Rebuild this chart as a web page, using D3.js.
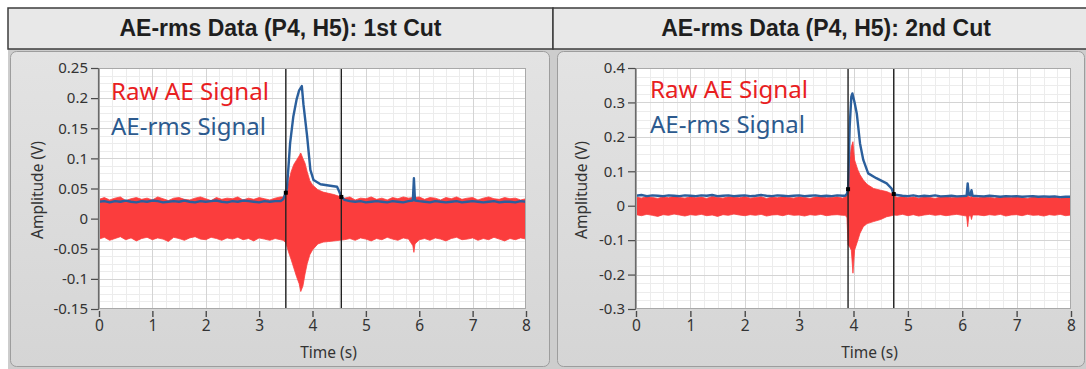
<!DOCTYPE html>
<html>
<head>
<meta charset="utf-8">
<script src="https://cdn.jsdelivr.net/npm/d3@7"></script>
<style>
  html, body { margin: 0; padding: 0; background: #fff; }
  svg { display: block; }
</style>
</head>
<body>
<div id="chart"></div>
<script>
// Two LabVIEW-style waveform panels: raw AE signal (red band) and AE-rms (blue line)
// for the 1st and 2nd cut.

const TITLES        = ["AE-rms Data (P4, H5): 1st Cut", "AE-rms Data (P4, H5): 2nd Cut"];
const LEGEND_LABELS = ["Raw AE Signal", "AE-rms Signal"];
const X_LABEL       = "Time (s)";
const Y_LABEL       = "Amplitude (V)";
const X_TICKS       = [0, 1, 2, 3, 4, 5, 6, 7, 8];

const CUT1_Y_TICKS  = [0.25, 0.2, 0.15, 0.1, 0.05, 0, -0.05, -0.1, -0.15];
const CUT1_Y_LABELS = ["0.25", "0.2", "0.15", "0.1", "0.05", "0", "-0.05", "-0.1", "-0.15"];
const CUT2_Y_TICKS  = [0.4, 0.3, 0.2, 0.1, 0, -0.1, -0.2, -0.3];
const CUT2_Y_LABELS = ["0.4", "0.3", "0.2", "0.1", "0", "-0.1", "-0.2", "-0.3"];

// ---- 1st cut ----
const cut1RawTime = [
  0, 0.1, 0.2, 0.3, 0.4, 0.5, 0.6, 0.7, 0.8, 0.9, 1.0, 1.1, 1.2, 1.3, 1.4, 1.5, 1.6, 1.7,
  1.8, 1.9, 2.0, 2.1, 2.2, 2.3, 2.4, 2.5, 2.6, 2.7, 2.8, 2.9, 3.0, 3.1, 3.2, 3.3, 3.4,
  3.45, 3.5, 3.55, 3.6, 3.65, 3.7, 3.75, 3.78, 3.82, 3.86, 3.9, 3.95, 4.0, 4.1, 4.2, 4.3, 4.4, 4.5,
  4.6, 4.7, 4.8, 4.9, 5.0, 5.1, 5.2, 5.3, 5.4, 5.5, 5.6, 5.7, 5.8, 5.88, 5.9, 5.92,
  6.0, 6.1, 6.2, 6.3, 6.4, 6.5, 6.6, 6.7, 6.8, 6.9, 7.0, 7.1, 7.2, 7.3, 7.4, 7.5, 7.6, 7.7, 7.8, 7.9, 8.0
];
const cut1RawHigh = [
  0.032, 0.035, 0.031, 0.034, 0.036, 0.030, 0.033, 0.035, 0.032, 0.034, 0.031, 0.036, 0.033, 0.030, 0.034, 0.035, 0.032, 0.031,
  0.034, 0.036, 0.033, 0.030, 0.035, 0.032, 0.034, 0.033, 0.036, 0.031, 0.034, 0.032, 0.035, 0.033, 0.031, 0.034, 0.036,
  0.036, 0.044, 0.060, 0.078, 0.090, 0.097, 0.104, 0.109, 0.100, 0.092, 0.078, 0.063, 0.056, 0.048, 0.044, 0.042, 0.040, 0.037,
  0.034, 0.036, 0.031, 0.034, 0.033, 0.036, 0.032, 0.034, 0.031, 0.035, 0.033, 0.036, 0.034, 0.035, 0.038, 0.035,
  0.036, 0.032, 0.035, 0.034, 0.031, 0.035, 0.033, 0.036, 0.032, 0.034, 0.035, 0.031, 0.034, 0.036, 0.033, 0.032, 0.035, 0.033, 0.034, 0.031, 0.033
];
const cut1RawLow = [
  -0.034, -0.031, -0.036, -0.033, -0.030, -0.035, -0.032, -0.037, -0.033, -0.031, -0.035, -0.032, -0.034, -0.038, -0.031, -0.033, -0.036, -0.032,
  -0.030, -0.034, -0.035, -0.031, -0.033, -0.036, -0.032, -0.034, -0.031, -0.035, -0.033, -0.037, -0.032, -0.034, -0.036, -0.033, -0.035,
  -0.036, -0.040, -0.055, -0.068, -0.082, -0.096, -0.108, -0.121, -0.112, -0.092, -0.075, -0.060, -0.052, -0.042, -0.039, -0.038, -0.037, -0.036,
  -0.035, -0.033, -0.036, -0.032, -0.034, -0.037, -0.033, -0.035, -0.031, -0.034, -0.036, -0.032, -0.034, -0.045, -0.056, -0.042,
  -0.035, -0.033, -0.036, -0.032, -0.034, -0.037, -0.033, -0.031, -0.035, -0.034, -0.032, -0.036, -0.033, -0.035, -0.031, -0.034, -0.037, -0.033, -0.035, -0.032, -0.034
];
const cut1RmsTime = [
  0, 0.1, 0.2, 0.3, 0.4, 0.5, 0.6, 0.7, 0.8, 0.9, 1.0, 1.1, 1.2, 1.3, 1.4, 1.5, 1.6,
  1.7, 1.8, 1.9, 2.0, 2.1, 2.2, 2.3, 2.4, 2.5, 2.6, 2.7, 2.8, 2.9, 3.0, 3.1, 3.2, 3.3,
  3.4, 3.45, 3.5, 3.52, 3.55, 3.58, 3.64, 3.7, 3.75, 3.8, 3.83, 3.9, 3.96, 4.02, 4.15, 4.3, 4.46, 4.5, 4.54,
  4.6, 4.7, 4.8, 4.9, 5.0, 5.1, 5.2, 5.3, 5.4, 5.5, 5.6, 5.7, 5.8, 5.88, 5.9, 5.92,
  6.0, 6.1, 6.2, 6.3, 6.4, 6.5, 6.6, 6.7, 6.8, 6.9, 7.0, 7.1, 7.2, 7.3, 7.4, 7.5, 7.6, 7.7, 7.8, 7.9, 8.0
];
const cut1Rms = [
  0.028, 0.029, 0.027, 0.029, 0.028, 0.030, 0.028, 0.027, 0.029, 0.028, 0.030, 0.029, 0.027, 0.028, 0.029, 0.028, 0.030,
  0.028, 0.027, 0.029, 0.028, 0.029, 0.030, 0.028, 0.027, 0.029, 0.028, 0.030, 0.029, 0.028, 0.027, 0.029, 0.028, 0.029,
  0.029, 0.032, 0.043, 0.050, 0.086, 0.125, 0.169, 0.197, 0.213, 0.220, 0.190, 0.136, 0.081, 0.064, 0.057, 0.055, 0.053, 0.045, 0.036,
  0.031, 0.029, 0.028, 0.029, 0.027, 0.028, 0.029, 0.028, 0.027, 0.029, 0.028, 0.027, 0.029, 0.030, 0.067, 0.030,
  0.029, 0.028, 0.027, 0.029, 0.028, 0.027, 0.028, 0.029, 0.027, 0.028, 0.029, 0.028, 0.027, 0.028, 0.029, 0.027, 0.028, 0.028, 0.027, 0.029, 0.028
];
const cut1CursorTime  = [3.5, 4.54];
const cut1CursorValue = [0.043, 0.036];

// ---- 2nd cut ----
const cut2RawTime = [
  0, 0.1, 0.2, 0.3, 0.4, 0.5, 0.6, 0.7, 0.8, 0.9, 1.0, 1.1, 1.2, 1.3, 1.4, 1.5, 1.6, 1.7, 1.8, 1.9,
  2.0, 2.1, 2.2, 2.3, 2.4, 2.5, 2.6, 2.7, 2.8, 2.9, 3.0, 3.1, 3.2, 3.3, 3.4, 3.5, 3.6, 3.7, 3.8,
  3.85, 3.88, 3.9, 3.93, 3.96, 3.99, 4.02, 4.08, 4.12, 4.18, 4.25, 4.37, 4.5, 4.61, 4.7, 4.74,
  4.8, 4.9, 5.0, 5.1, 5.2, 5.3, 5.4, 5.5, 5.6, 5.7, 5.8, 5.9, 6.0,
  6.08, 6.1, 6.12, 6.15, 6.17, 6.19,
  6.3, 6.4, 6.5, 6.6, 6.7, 6.8, 6.9, 7.0, 7.1, 7.2, 7.3, 7.4, 7.5, 7.6, 7.7, 7.8, 7.9, 8.0
];
const cut2RawHigh = [
  0.025, 0.022, 0.027, 0.024, 0.021, 0.026, 0.023, 0.028, 0.024, 0.022, 0.026, 0.023, 0.025, 0.021, 0.027, 0.024, 0.022, 0.026, 0.025, 0.023,
  0.027, 0.022, 0.024, 0.026, 0.021, 0.025, 0.023, 0.027, 0.024, 0.022, 0.026, 0.024, 0.021, 0.025, 0.027, 0.023, 0.024, 0.026, 0.022,
  0.026, 0.030, 0.050, 0.133, 0.171, 0.186, 0.133, 0.104, 0.090, 0.075, 0.062, 0.050, 0.045, 0.041, 0.035, 0.031,
  0.024, 0.027, 0.023, 0.025, 0.022, 0.026, 0.024, 0.021, 0.025, 0.027, 0.023, 0.024, 0.026,
  0.025, 0.035, 0.026, 0.024, 0.028, 0.024,
  0.023, 0.026, 0.024, 0.022, 0.027, 0.025, 0.023, 0.026, 0.024, 0.021, 0.025, 0.027, 0.023, 0.024, 0.026, 0.022, 0.025, 0.024
];
const cut2RawLow = [
  -0.026, -0.029, -0.025, -0.028, -0.031, -0.026, -0.028, -0.024, -0.027, -0.030, -0.026, -0.028, -0.025, -0.029, -0.027, -0.031, -0.026, -0.028, -0.024, -0.027,
  -0.029, -0.026, -0.028, -0.025, -0.030, -0.027, -0.026, -0.029, -0.025, -0.028, -0.027, -0.030, -0.026, -0.028, -0.025, -0.029, -0.027, -0.026, -0.028,
  -0.028, -0.035, -0.114, -0.120, -0.129, -0.196, -0.129, -0.100, -0.080, -0.061, -0.052, -0.046, -0.040, -0.032, -0.029, -0.027,
  -0.028, -0.025, -0.029, -0.026, -0.030, -0.027, -0.025, -0.028, -0.026, -0.029, -0.027, -0.025, -0.028,
  -0.030, -0.061, -0.032, -0.027, -0.040, -0.027,
  -0.027, -0.029, -0.026, -0.028, -0.025, -0.030, -0.027, -0.026, -0.029, -0.025, -0.028, -0.027, -0.030, -0.026, -0.028, -0.025, -0.029, -0.027
];
const cut2RmsTime = [
  0, 0.1, 0.2, 0.3, 0.4, 0.5, 0.6, 0.7, 0.8, 0.9, 1.0, 1.1, 1.2, 1.3, 1.4, 1.5, 1.6, 1.7, 1.8, 1.9,
  2.0, 2.1, 2.2, 2.3, 2.4, 2.5, 2.6, 2.7, 2.8, 2.9, 3.0, 3.1, 3.2, 3.3, 3.4, 3.5, 3.6, 3.7, 3.8,
  3.85, 3.88, 3.9, 3.93, 3.96, 3.98, 4.02, 4.06, 4.12, 4.18, 4.27, 4.42, 4.61, 4.7, 4.74,
  4.8, 4.9, 5.0, 5.1, 5.2, 5.3, 5.4, 5.5, 5.6, 5.7, 5.8, 5.9, 6.0,
  6.08, 6.1, 6.12, 6.15, 6.17, 6.19,
  6.3, 6.4, 6.5, 6.6, 6.7, 6.8, 6.9, 7.0, 7.1, 7.2, 7.3, 7.4, 7.5, 7.6, 7.7, 7.8, 7.9, 8.0
];
const cut2Rms = [
  0.029, 0.031, 0.028, 0.030, 0.029, 0.028, 0.030, 0.029, 0.028, 0.030, 0.029, 0.028, 0.030, 0.029, 0.031, 0.028, 0.029, 0.030, 0.028, 0.029,
  0.030, 0.028, 0.029, 0.031, 0.029, 0.028, 0.030, 0.029, 0.028, 0.029, 0.030, 0.028, 0.029, 0.030, 0.028, 0.029, 0.028, 0.030, 0.029,
  0.029, 0.035, 0.048, 0.230, 0.317, 0.326, 0.300, 0.268, 0.181, 0.133, 0.094, 0.080, 0.065, 0.050, 0.034,
  0.031, 0.029, 0.028, 0.030, 0.027, 0.029, 0.028, 0.030, 0.027, 0.028, 0.029, 0.027, 0.028,
  0.029, 0.065, 0.032, 0.030, 0.045, 0.029,
  0.028, 0.027, 0.029, 0.028, 0.026, 0.028, 0.027, 0.028, 0.026, 0.027, 0.028, 0.026, 0.027, 0.026, 0.027, 0.025, 0.026, 0.026
];
const cut2CursorTime  = [3.9, 4.74];
const cut2CursorValue = [0.048, 0.034];

// ---- layout / style ----
const W = 1086, H = 369;
const FONT_UI    = "'Noto Sans', 'Open Sans', sans-serif";
const FONT_TITLE = "'Liberation Sans', Arial, sans-serif";
const RED  = "#fb3d3d";
const BLUE = "#2b5f9c";
const PLOT_Y0 = 68, PLOT_Y1 = 309;

const PANELS = [
  {
    title: TITLES[0], cell: [8, 553], frame: [10, 549], x0: 99, x1: 526, titleX: 280.5,
    yDomain: [-0.15, 0.25], yStep: 0.05, yTicks: CUT1_Y_TICKS, yLabels: CUT1_Y_LABELS,
    yLabelX: 38, legendX: 111, legendY: [100, 135],
    rawTime: cut1RawTime, rawHigh: cut1RawHigh, rawLow: cut1RawLow,
    rmsTime: cut1RmsTime, rms: cut1Rms,
    cursorTime: cut1CursorTime, cursorValue: cut1CursorValue,
  },
  {
    title: TITLES[1], cell: [553, 1099], frame: [557, 1084], x0: 636, x1: 1071, titleX: 826,
    yDomain: [-0.3, 0.4], yStep: 0.1, yTicks: CUT2_Y_TICKS, yLabels: CUT2_Y_LABELS,
    yLabelX: 582, legendX: 650, legendY: [98, 133],
    rawTime: cut2RawTime, rawHigh: cut2RawHigh, rawLow: cut2RawLow,
    rmsTime: cut2RmsTime, rms: cut2Rms,
    cursorTime: cut2CursorTime, cursorValue: cut2CursorValue,
  },
];

const svg = d3.select("#chart")
  .append("svg")
    .attr("width", W)
    .attr("height", H);

const defs = svg.append("defs");
const grad = defs.append("linearGradient")
  .attr("id", "panelGrad")
  .attr("x1", 0).attr("y1", 0).attr("x2", 0).attr("y2", 1);
grad.append("stop").attr("offset", "0%").attr("stop-color", "#e3e3e3");
grad.append("stop").attr("offset", "100%").attr("stop-color", "#d5d5d5");

// backdrop behind the panels
svg.append("rect")
  .attr("x", 8).attr("y", 49)
  .attr("width", W - 8).attr("height", H - 49)
  .attr("fill", "#cdcdcd");

PANELS.forEach((p, i) => drawPanel(p, i));

function drawPanel(p, i) {
  // header cell
  svg.append("rect")
    .attr("x", p.cell[0]).attr("y", 8)
    .attr("width", p.cell[1] - p.cell[0]).attr("height", 41)
    .attr("fill", "#e8e8e8")
    .attr("stroke", "#3c3c3c")
    .attr("stroke-width", 1.5);

  svg.append("text")
    .attr("x", p.titleX)
    .attr("y", 36)
    .attr("text-anchor", "middle")
    .attr("font-family", FONT_TITLE)
    .attr("font-weight", "700")
    .attr("font-size", "23px")
    .attr("fill", "#1e1e1e")
    .text(p.title);

  // panel frame
  svg.append("rect")
    .attr("x", p.frame[0] + 0.5).attr("y", 51.5)
    .attr("width", p.frame[1] - p.frame[0]).attr("height", 315)
    .attr("rx", 6)
    .attr("fill", "url(#panelGrad)")
    .attr("stroke", "#9d9d9d");

  const x = d3.scaleLinear().domain([0, 8]).range([p.x0, p.x1]);
  const y = d3.scaleLinear().domain(p.yDomain).range([PLOT_Y1, PLOT_Y0]);

  const clipId = `clip-${i}`;
  defs.append("clipPath").attr("id", clipId)
    .append("rect")
      .attr("x", p.x0).attr("y", PLOT_Y0)
      .attr("width", p.x1 - p.x0).attr("height", PLOT_Y1 - PLOT_Y0);

  svg.append("rect")
    .attr("x", p.x0).attr("y", PLOT_Y0)
    .attr("width", p.x1 - p.x0).attr("height", PLOT_Y1 - PLOT_Y0)
    .attr("fill", "#fff");

  const g = svg.append("g").attr("clip-path", `url(#${clipId})`);

  drawGrid(g, p, x, y);
  drawRaw(g, p, x, y);
  drawRms(g, p, x, y);
  drawCursors(g, p, x, y);
  drawFrame(p);
  drawAxes(p, x, y);
  drawLegend(p);
}

function drawGrid(g, p, x, y) {
  const xMinor = d3.range(0, 8.0001, 0.25);
  const yMinor = d3.range(p.yDomain[0], p.yDomain[1] + 1e-6, p.yStep / 4);

  g.selectAll(".vminor").data(xMinor).join("line")
    .attr("x1", d => Math.round(x(d)) + 0.5).attr("x2", d => Math.round(x(d)) + 0.5)
    .attr("y1", PLOT_Y0).attr("y2", PLOT_Y1)
    .attr("stroke", "#ececec");
  g.selectAll(".hminor").data(yMinor).join("line")
    .attr("x1", p.x0).attr("x2", p.x1)
    .attr("y1", d => Math.round(y(d)) + 0.5).attr("y2", d => Math.round(y(d)) + 0.5)
    .attr("stroke", "#ececec");

  g.selectAll(".vmajor").data(X_TICKS).join("line")
    .attr("x1", d => Math.round(x(d)) + 0.5).attr("x2", d => Math.round(x(d)) + 0.5)
    .attr("y1", PLOT_Y0).attr("y2", PLOT_Y1)
    .attr("stroke", "#d4d4d4");
  g.selectAll(".hmajor").data(p.yTicks).join("line")
    .attr("x1", p.x0).attr("x2", p.x1)
    .attr("y1", d => Math.round(y(d)) + 0.5).attr("y2", d => Math.round(y(d)) + 0.5)
    .attr("stroke", "#d4d4d4");
}

function drawRaw(g, p, x, y) {
  const rows = p.rawTime.map((t, k) => ({ t, hi: p.rawHigh[k], lo: p.rawLow[k] }));
  const areaFn = d3.area()
    .x(d => x(d.t))
    .y0(d => y(d.lo))
    .y1(d => y(d.hi));

  g.append("path")
    .datum(rows)
    .attr("d", areaFn)
    .attr("fill", RED)
    .attr("stroke", RED)
    .attr("stroke-width", 0.8)
    .attr("stroke-linejoin", "miter");
}

function drawRms(g, p, x, y) {
  const rows = p.rmsTime.map((t, k) => ({ t, v: p.rms[k] }));
  const lineFn = d3.line()
    .x(d => x(d.t))
    .y(d => y(d.v));

  g.append("path")
    .datum(rows)
    .attr("d", lineFn)
    .attr("fill", "none")
    .attr("stroke", BLUE)
    .attr("stroke-width", 2.4)
    .attr("stroke-linejoin", "round");
}

function drawCursors(g, p, x, y) {
  const rows = p.cursorTime.map((t, k) => ({ t, v: p.cursorValue[k] }));

  g.selectAll(".cursor").data(rows).join("line")
    .attr("x1", d => x(d.t)).attr("x2", d => x(d.t))
    .attr("y1", PLOT_Y0).attr("y2", PLOT_Y1)
    .attr("stroke", "#222")
    .attr("stroke-width", 1.4);

  g.selectAll(".cursor-dot").data(rows).join("rect")
    .attr("x", d => x(d.t) - 2).attr("y", d => y(d.v) - 2)
    .attr("width", 4).attr("height", 4)
    .attr("fill", "#000");
}

function drawFrame(p) {
  svg.append("rect")
    .attr("x", p.x0 + 0.5).attr("y", PLOT_Y0 + 0.5)
    .attr("width", p.x1 - p.x0 - 1).attr("height", PLOT_Y1 - PLOT_Y0 - 1)
    .attr("fill", "none")
    .attr("stroke", "#a9a9a9");
}

function drawAxes(p, x, y) {
  const yAxisG = svg.append("g")
    .attr("transform", `translate(${p.x0 - 1},0)`)
    .call(d3.axisLeft(y).tickValues(p.yTicks).tickFormat((d, k) => p.yLabels[k]).tickSize(7).tickPadding(3));
  yAxisG.select(".domain").attr("stroke", "#6a6a6a").attr("stroke-width", 1.2);
  yAxisG.selectAll(".tick line").attr("stroke", "#4a4a4a").attr("stroke-width", 1.2);
  yAxisG.selectAll("text")
    .attr("fill", "#333")
    .attr("font-size", "15px")
    .attr("font-family", FONT_UI);

  const xAxisG = svg.append("g")
    .attr("transform", `translate(0,${PLOT_Y1 + 2})`)
    .call(d3.axisBottom(x).tickValues(X_TICKS).tickFormat(d3.format("d")).tickSize(6).tickPadding(3));
  xAxisG.select(".domain").remove();
  xAxisG.selectAll(".tick line").attr("stroke", "#4a4a4a").attr("stroke-width", 1.4);
  xAxisG.selectAll("text")
    .attr("fill", "#333")
    .attr("font-size", "15.5px")
    .attr("font-family", FONT_UI);

  svg.append("text")
    .attr("x", (p.x0 + p.x1) / 2 + 16)
    .attr("y", 358)
    .attr("text-anchor", "middle")
    .attr("fill", "#333")
    .attr("font-size", "15.5px")
    .attr("font-family", FONT_UI)
    .text(X_LABEL);

  svg.append("text")
    .attr("transform", `translate(${p.yLabelX + 5},190) rotate(-90)`)
    .attr("text-anchor", "middle")
    .attr("fill", "#333")
    .attr("font-size", "15.5px")
    .attr("font-family", FONT_UI)
    .text(Y_LABEL);
}

function drawLegend(p) {
  const colors = ["#e8201f", "#2c5a8e"];
  const widths = [158, 155];
  LEGEND_LABELS.forEach((label, k) => {
    svg.append("text")
      .attr("x", p.legendX)
      .attr("y", p.legendY[k])
      .attr("fill", colors[k])
      .attr("font-size", "23px")
      .attr("font-family", FONT_UI)
      .attr("textLength", widths[k])
      .attr("lengthAdjust", "spacingAndGlyphs")
      .text(label);
  });
}
</script>
</body>
</html>
